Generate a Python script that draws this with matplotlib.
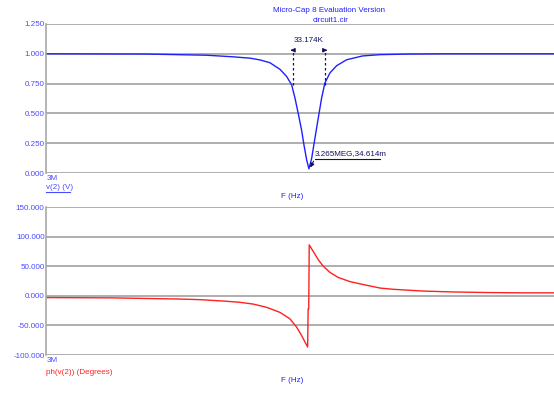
import matplotlib
matplotlib.use("Agg")
import matplotlib.pyplot as plt

plt.rcParams['font.family'] = ['Liberation Sans', 'DejaVu Sans']

# frequency (kHz) and magnitude of v(2)
F_MAG = [3000, 3100, 3162, 3188, 3206, 3216, 3225.7, 3235.8, 3242.5, 3247.6, 3250.9,
         3254.2, 3257.6, 3260, 3262.7, 3265, 3267.7, 3271, 3274.4, 3277.8, 3281.1,
         3286.2, 3292.9, 3303, 3319, 3337, 3367, 3400, 3512]
MAG = [1.0, 0.998, 0.988, 0.975, 0.963, 0.948, 0.925, 0.87, 0.81, 0.74, 0.63,
       0.5, 0.36, 0.235, 0.11, 0.035, 0.12, 0.29, 0.46, 0.63, 0.755,
       0.84, 0.9, 0.95, 0.982, 0.993, 0.998, 1.0, 1.0]

# frequency (kHz) and phase of v(2) in degrees
F_PH = [3000, 3067, 3135, 3155, 3180, 3195.5, 3208.9, 3222.4, 3235.8, 3245.9, 3252.6,
        3257.6, 3261, 3263.7, 3264.2, 3264.8, 3265.3, 3269.3, 3274.4, 3279.4, 3286.2,
        3294.5, 3306.3, 3319.7, 3337, 3350, 3365, 3380, 3410, 3445, 3480, 3512]
PHASE = [-3, -3.5, -5.5, -6.5, -9, -11, -14, -19.5, -28, -39, -53,
         -67, -78, -86.5, -22, -22, 86, 75, 61, 50, 39.5,
         31, 24, 19, 13, 11, 9.5, 8, 6.5, 5.5, 5, 5]

MAG_TICKS = [0.0, 0.25, 0.5, 0.75, 1.0, 1.25]
PH_TICKS = [-100, -50, 0, 50, 100, 150]

BW_LEFT, BW_RIGHT, BW_LABEL = 3248.5, 3281.5, "33.174K"
DIP_F, DIP_V, DIP_LABEL = 3265, 0.035, "3.265MEG,34.614m"

BLUE = "#2020ff"
LBLUE = "#4a4aff"
DARK = "#101060"
RED = "#ff2020"
GRID = "#a8a8a8"
FS = 5.8

W, H = 554, 397
fig = plt.figure(figsize=(W / 100, H / 100), dpi=100)
XMIN, XMAX = 3000, 3512


def make_axes(top, bottom):
    ax = fig.add_axes([46 / W, (H - bottom) / H, (W - 46) / W, (bottom - top) / H])
    ax.set_xlim(XMIN, XMAX)
    for s in ["top", "right", "bottom"]:
        ax.spines[s].set_visible(False)
    ax.spines["left"].set_color(GRID)
    ax.spines["left"].set_linewidth(1.2)
    ax.set_xticks([])
    ax.tick_params(axis="y", length=0, pad=1, labelsize=FS, labelcolor=LBLUE)
    ax.grid(axis="y", color=GRID, linewidth=1.3)
    ax.set_axisbelow(True)
    return ax


# magnitude plot
ax1 = make_axes(24, 173)
ax1.plot(F_MAG, MAG, color=BLUE, linewidth=1.0, clip_on=False)
ax1.set_ylim(0, 1.25)
ax1.set_yticks(MAG_TICKS)
ax1.set_yticklabels([f"{t:.3f}" for t in MAG_TICKS])

# bandwidth markers
for f in (BW_LEFT, BW_RIGHT):
    ax1.plot([f, f], [0.74, 1.03], color=DARK, linestyle=(0, (2, 2)), linewidth=0.9)
ax1.annotate("", xy=(BW_LEFT - 2, 1.03), xytext=(BW_LEFT + 3, 1.03),
             arrowprops=dict(arrowstyle="-|>", color=DARK, lw=0.8, mutation_scale=6))
ax1.annotate("", xy=(BW_RIGHT + 2, 1.03), xytext=(BW_RIGHT - 3, 1.03),
             arrowprops=dict(arrowstyle="-|>", color=DARK, lw=0.8, mutation_scale=6))
ax1.text((BW_LEFT + BW_RIGHT) / 2, 1.085, BW_LABEL, fontsize=FS, color=DARK,
         ha="center", va="bottom")

# minimum marker
ax1.annotate("", xy=(DIP_F, DIP_V - 0.01), xytext=(DIP_F + 6, 0.12),
             arrowprops=dict(arrowstyle="-|>", color=DARK, lw=0.8, mutation_scale=6))
ax1.plot([DIP_F + 6, DIP_F + 72], [0.12, 0.12], color=DARK, linewidth=0.8)
ax1.text(DIP_F + 6, 0.13, DIP_LABEL, fontsize=FS, color=DARK, ha="left", va="bottom")

# phase plot
ax2 = make_axes(207, 355)
ax2.plot(F_PH, PHASE, color=RED, linewidth=1.0)
ax2.set_ylim(-100, 150)
ax2.set_yticks(PH_TICKS)
ax2.set_yticklabels([f"{t:.3f}" for t in PH_TICKS])

# titles and axis labels
fig.text(329 / W, 1 - 10 / H, "Micro-Cap 8 Evaluation Version", fontsize=FS, color=BLUE,
         ha="center", va="center")
fig.text(331 / W, 1 - 20 / H, "circuit1.cir", fontsize=FS, color=BLUE, ha="center", va="center")

fig.text(292 / W, 1 - 197 / H, "F (Hz)", fontsize=FS, color=BLUE, ha="center", va="center")
fig.text(292 / W, 1 - 381 / H, "F (Hz)", fontsize=FS, color=BLUE, ha="center", va="center")

fig.text(47 / W, 1 - 178 / H, "3M", fontsize=FS, color=LBLUE, ha="left", va="center")
fig.text(47 / W, 1 - 361 / H, "3M", fontsize=FS, color=LBLUE, ha="left", va="center")
fig.text(46 / W, 1 - 188 / H, "v(2) (V)", fontsize=FS, color=LBLUE, ha="left", va="center")
fig.add_artist(plt.Line2D([46 / W, 70 / W], [1 - 192 / H, 1 - 192 / H], color=LBLUE, linewidth=0.8))
fig.text(46 / W, 1 - 372 / H, "ph(v(2)) (Degrees)", fontsize=FS, color=RED, ha="left", va="center")

fig.savefig("out.png", dpi=100)
